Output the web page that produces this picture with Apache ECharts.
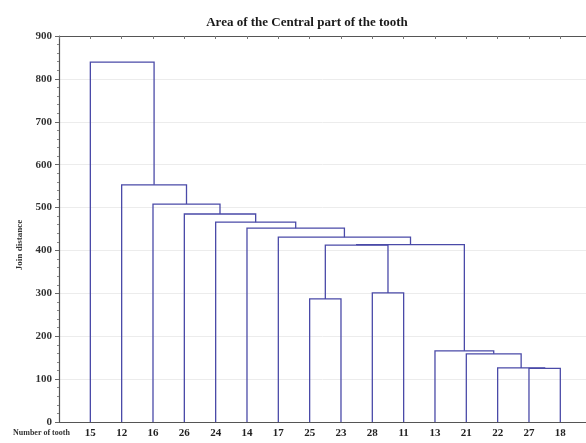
<!DOCTYPE html>
<html>
<head>
<meta charset="utf-8">
<script src="https://cdn.jsdelivr.net/npm/echarts@6/dist/echarts.min.js"></script>
<style>
  html, body { margin: 0; padding: 0; background: #fff; }
  #chart { width: 586px; height: 443px; }
</style>
</head>
<body>
<div id="chart"></div>
<script>
// leaf order along the x axis
var leaves = ["15", "12", "16", "26", "24", "14", "17", "25", "23", "28", "11", "13", "21", "22", "27", "18"];
// merges: ids 0..15 are leaves, merge k creates id 16 + k
var mergeA = [14, 13, 12, 11, 7, 9, 20, 22, 6, 5, 4, 3, 2, 1, 0];
var mergeB = [15, 16, 17, 18, 8, 10, 21, 19, 23, 24, 25, 26, 27, 28, 29];
var mergeHeight = [125, 126, 159, 166, 287, 301, 412.5, 413.5, 431, 452, 466, 485, 508, 553, 839];
var yTicks = [0, 100, 200, 300, 400, 500, 600, 700, 800, 900];

var pos = [], ht = [];
leaves.forEach(function (l, i) { pos.push(i + 1); ht.push(0); });
var segs = [];
for (var k = 0; k < mergeHeight.length; k++) {
  var a = mergeA[k], b = mergeB[k], h = mergeHeight[k];
  segs.push({ coords: [[pos[a], ht[a]], [pos[a], h], [pos[b], h], [pos[b], ht[b]]] });
  pos.push((pos[a] + pos[b]) / 2);
  ht.push(h);
}

var serif = "Liberation Serif";
var chart = echarts.init(document.getElementById("chart"));
chart.setOption({
  animation: false,
  title: {
    text: "Area of the Central part of the tooth",
    left: 302, top: 11, textAlign: "center",
    textStyle: { fontFamily: serif, fontWeight: "bold", fontSize: 13, color: "#1a1a1a" }
  },
  grid: { left: 59, right: 0, top: 36, bottom: 21 },
  xAxis: [{
    type: "value", min: 0, max: 16.82, interval: 1,
    axisLine: { lineStyle: { color: "#555", width: 1.2 } },
    axisTick: { show: false },
    splitLine: { show: false },
    axisLabel: {
      margin: 6, fontFamily: serif, fontWeight: "bold", fontSize: 11, color: "#222",
      showMaxLabel: false,
      formatter: function (v) { return leaves[v - 1] || ""; }
    }
  }, {
    type: "value", position: "top", min: 0, max: 16.82, interval: 1,
    axisLine: { show: true, lineStyle: { color: "#555", width: 1.2 } },
    axisTick: { show: true, inside: true, length: 3, lineStyle: { color: "#777" } },
    axisLabel: { show: false },
    splitLine: { show: false }
  }],
  yAxis: {
    type: "value", min: yTicks[0], max: yTicks[yTicks.length - 1], interval: 100,
    axisLine: { show: true, lineStyle: { color: "#555", width: 1.2 } },
    axisTick: { show: true, length: 4, lineStyle: { color: "#666" } },
    minorTick: { show: true, splitNumber: 5, length: 2, lineStyle: { color: "#888" } },
    splitLine: { lineStyle: { color: "#ececec" } },
    axisLabel: { margin: 7, fontFamily: serif, fontWeight: "bold", fontSize: 11, color: "#333" }
  },
  graphic: [{
    type: "text", x: 20, y: 245, rotation: Math.PI / 2,
    style: { text: "Join distance", fontFamily: serif, fontWeight: "bold", fontSize: 9,
      fill: "#333", textAlign: "center", textVerticalAlign: "middle" }
  }, {
    type: "text", x: 13, y: 433,
    style: { text: "Number of tooth", fontFamily: serif, fontWeight: "bold", fontSize: 8,
      fill: "#333", textVerticalAlign: "middle" }
  }],
  series: [{
    type: "lines",
    coordinateSystem: "cartesian2d",
    polyline: true,
    silent: true,
    lineStyle: { color: "#4a4aa8", width: 1.3, opacity: 1 },
    data: segs
  }]
});
</script>
</body>
</html>
